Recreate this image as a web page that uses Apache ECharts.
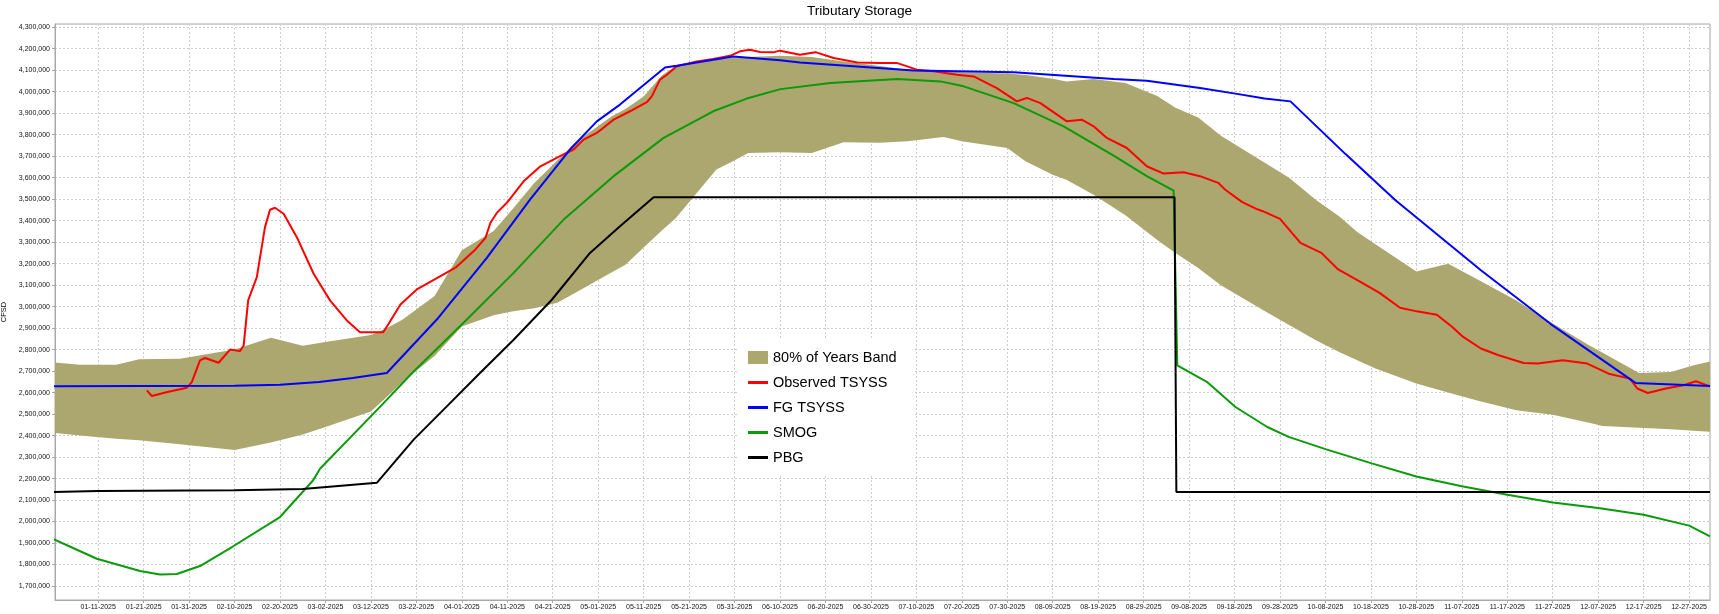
<!DOCTYPE html>
<html>
<head>
<meta charset="utf-8">
<title>Tributary Storage</title>
<script src="https://cdn.jsdelivr.net/npm/echarts@6/dist/echarts.min.js"></script>
<style>
  html, body { margin: 0; padding: 0; background: #fff; }
  #chart { width: 1719px; height: 614px; }
</style>
</head>
<body>
<div id="chart"></div>
<script>
// x = day of year (0 = 01-01-2025), values in thousands of CFSD
const UNIT = 1000;

// 80% of years band (lower / upper edge)
const bandDays = [0, 6, 14, 19, 28, 40, 48, 55, 60, 70, 73, 77, 84, 90, 97, 101, 106, 111, 115, 123,
  126, 130, 134, 137, 146, 149, 153, 160, 167, 174, 182, 188, 196, 200, 210, 214, 220, 223, 229, 236,
  243, 247, 252, 257, 267, 272, 278, 283, 287, 291, 300, 307, 314, 322, 330, 338, 341, 349, 356, 361, 365];
const bandHigh = [2740, 2730, 2730, 2755, 2758, 2800, 2855, 2818, 2835, 2868, 2895, 2940, 3050, 3262, 3352, 3450, 3576, 3680, 3765, 3886,
  3920, 3978, 4075, 4118, 4150, 4157, 4162, 4167, 4161, 4141, 4120, 4102, 4094, 4090, 4085, 4078, 4060, 4048, 4059, 4040,
  3980, 3925, 3880, 3795, 3665, 3600, 3495, 3420, 3347, 3290, 3163, 3200, 3120, 3029, 2921, 2820, 2785, 2691, 2696, 2727, 2745];
const bandLow = [2412, 2400, 2385, 2378, 2360, 2333, 2368, 2405, 2440, 2512, 2570, 2650, 2770, 2908, 2960, 2977, 2992, 3018, 3065, 3160,
  3195, 3275, 3354, 3410, 3638, 3670, 3715, 3718, 3715, 3765, 3762, 3769, 3789, 3769, 3738, 3676, 3614, 3590, 3521, 3425,
  3310, 3250, 3180, 3100, 2975, 2915, 2842, 2789, 2750, 2712, 2642, 2600, 2560, 2518, 2497, 2460, 2445, 2437, 2430, 2422, 2418];

// Observed TSYSS
const obsDays = [20.7, 21.8, 25, 29.5, 30.6, 32.4, 33.5, 36.5, 39, 41.2,
  42, 43, 44.9, 46.7, 47.8, 48.9, 50.8, 53.7, 57.4, 61,
  64.7, 67.6, 72.7, 73.9, 76.5, 80.1, 85.3, 88.6, 93, 95.2,
  96.3, 97.7, 99.9, 103.6, 107.3, 111.6, 114.6, 116.8, 119.7, 123.4,
  127, 130.7, 131.8, 133.6, 135.1, 137.3, 141.7, 145.3, 149, 151.2,
  153.4, 155.6, 158.5, 160, 164.4, 167.8, 171.8, 177, 182, 185.8,
  188, 190.1, 193.8, 198.9, 202.6, 207.7, 212.1, 214.3, 217.3, 223.1,
  226.4, 229, 231.9, 236.3, 240.7, 244.4, 248.8, 252.4, 256.4, 257.9,
  261.7, 264.8, 266.2, 270, 274.5, 279.1, 282.8, 287.4, 291.9, 296.4,
  300.1, 304.5, 307.9, 310.3, 314.2, 318.1, 323.6, 326.7, 332.2, 337.6,
  342.3, 347, 348.6, 350.9, 354.9, 358.8, 361.5, 364.6];
const obsValues = [2610, 2584, 2602, 2623, 2649, 2750, 2761, 2739, 2800, 2793,
  2819, 3029, 3137, 3370, 3451, 3460, 3432, 3323, 3153, 3029,
  2936, 2881, 2881, 2920, 3010, 3080, 3142, 3181, 3266, 3320,
  3390, 3436, 3483, 3583, 3653, 3700, 3731, 3777, 3808, 3870,
  3909, 3951, 3978, 4056, 4079, 4118, 4141, 4152, 4167, 4188,
  4195, 4185, 4183, 4191, 4172, 4184, 4157, 4136, 4133, 4133,
  4118, 4102, 4095, 4079, 4071, 4017, 3955, 3971, 3947, 3862,
  3870, 3839, 3785, 3738, 3653, 3619, 3625, 3607, 3576, 3545,
  3486, 3455, 3444, 3408, 3297, 3250, 3173, 3119, 3064, 2995,
  2978, 2962, 2905, 2859, 2805, 2774, 2738, 2735, 2750, 2735,
  2688, 2665, 2619, 2598, 2619, 2634, 2653, 2629];

// FG TSYSS
const fgDays = [0, 40, 50, 58.6, 66, 73.5, 84.5, 95.5, 105, 113.8, 119.7, 124.8, 134.7, 137.3, 149.7, 160,
  164.4, 189.4, 211.4, 233.4, 240.7, 252.4, 260.2, 266.6, 272.3, 284.3, 295.4, 314.2, 329.5, 348.2, 364.6];
const fgValues = [2630, 2632, 2636, 2649, 2668, 2691, 2940, 3227, 3498, 3731, 3862, 3940, 4113, 4121, 4164, 4146,
  4136, 4099, 4090, 4059, 4051, 4017, 3991, 3968, 3955, 3712, 3495, 3169, 2920, 2645, 2631];

// SMOG
const smogDays = [0, 9.7, 19.2, 23.6, 27.3, 32.4, 39.7, 50, 57.3, 58.8, 72.1, 79.4, 91.1, 101.4, 112.4,
  123.4, 134.4, 145.3, 152.7, 160.1, 171.1, 185.8, 195.3, 200.4, 211.4, 222.4, 233.4, 240.7, 246.6, 247.4,
  253.9, 260.2, 267.2, 271.9, 280, 290, 300, 310, 320, 330, 340, 350, 360, 364.6];
const smogValues = [1920, 1827, 1770, 1754, 1756, 1793, 1885, 2021, 2192, 2246, 2536, 2698, 2940, 3157, 3405,
  3607, 3785, 3909, 3968, 4012, 4040, 4059, 4048, 4025, 3947, 3839, 3703, 3607, 3540, 2727,
  2650, 2533, 2440, 2394, 2337, 2272, 2210, 2164, 2125, 2089, 2063, 2032, 1981, 1931];

// PBG
const pbgDays = [0, 10, 40, 55, 71.3, 79.4, 86.7, 94, 101.4, 109.8, 118.2, 124.8, 132.2, 246.8, 247.2, 364.6];
const pbgValues = [2137, 2142, 2146, 2152, 2180, 2381, 2536, 2691, 2846, 3032, 3250, 3374, 3509, 3509, 2138, 2138];

const FONT = '"Liberation Sans", Arial, sans-serif';
const BAND = '#aca76e';
const GRID_LINE = { lineStyle: { color: '#cdcdcd', width: 1, type: [2, 2] } };
const LINE_ICON = 'path://M0,0H20V3H0Z';

function pairs(days, vals) {
  return days.map((d, i) => [d, vals[i] * UNIT]);
}

// day index -> MM-DD-YYYY
function dayLabel(d) {
  const t = new Date(Date.UTC(2025, 0, 1) + Math.round(d) * 86400000);
  const mm = String(t.getUTCMonth() + 1).padStart(2, '0');
  const dd = String(t.getUTCDate()).padStart(2, '0');
  return mm + '-' + dd + '-' + t.getUTCFullYear();
}

function thousands(v) {
  return String(Math.round(v)).replace(/\B(?=(\d{3})+(?!\d))/g, ',');
}

function lineSeries(name, data, color) {
  return {
    name: name,
    type: 'line',
    data: data,
    symbol: 'none',
    color: color,
    lineStyle: { color: color, width: 2 },
    itemStyle: { color: color }
  };
}

// band drawn as one polygon: upper edge left->right, lower edge right->left
function renderBand(params, api) {
  if (params.dataIndex !== 0) return null;
  const upper = bandDays.map((d, i) => api.coord([d, bandHigh[i] * UNIT]));
  const lower = bandDays.map((d, i) => api.coord([d, bandLow[i] * UNIT])).reverse();
  const cs = params.coordSys;
  const pts = echarts.graphic.clipPointsByRect(upper.concat(lower), {
    x: cs.x, y: cs.y, width: cs.width, height: cs.height
  });
  return {
    type: 'polygon',
    shape: { points: pts },
    style: { fill: BAND }
  };
}

const chart = echarts.init(document.getElementById('chart'));

chart.setOption({
  animation: false,
  backgroundColor: '#fff',
  title: {
    text: 'Tributary Storage',
    left: 'center',
    top: 0,
    padding: [4, 5, 0, 5],
    textStyle: { fontFamily: FONT, fontSize: 13.7, fontWeight: 'normal', color: '#000' }
  },
  grid: {
    left: 55, right: 9, top: 24, bottom: 14,
    show: true, borderColor: '#a8a8a8', borderWidth: 1,
    containLabel: false, outerBoundsMode: 'none'
  },
  legend: {
    orient: 'vertical',
    left: 738, top: 338,
    padding: [12, 16, 11, 10],
    backgroundColor: '#fff',
    itemWidth: 20, itemHeight: 13, itemGap: 10,
    textStyle: { fontFamily: FONT, fontSize: 14.5, color: '#000' },
    data: [
      { name: '80% of Years Band', icon: 'rect' },
      { name: 'Observed TSYSS', icon: LINE_ICON },
      { name: 'FG TSYSS', icon: LINE_ICON },
      { name: 'SMOG', icon: LINE_ICON },
      { name: 'PBG', icon: LINE_ICON }
    ]
  },
  xAxis: {
    type: 'value',
    min: 0.5, max: 364.6,
    splitNumber: 36,
    axisLine: { lineStyle: { color: '#a8a8a8' } },
    axisTick: { show: true, length: 3, lineStyle: { color: '#a8a8a8' } },
    axisLabel: {
      showMinLabel: false, showMaxLabel: false,
      formatter: dayLabel,
      fontFamily: FONT, fontSize: 7, margin: 4, color: '#111'
    },
    splitLine: GRID_LINE
  },
  yAxis: {
    type: 'value',
    min: 1635000, max: 4315000,
    splitNumber: 26,
    name: 'CFSD',
    nameLocation: 'middle',
    nameGap: 42,
    nameTextStyle: { fontFamily: FONT, fontSize: 7.5, color: '#000' },
    axisLine: { show: true, lineStyle: { color: '#a8a8a8' } },
    axisTick: { show: true, length: 3, lineStyle: { color: '#a8a8a8' } },
    axisLabel: {
      showMinLabel: false, showMaxLabel: false,
      formatter: thousands,
      fontFamily: FONT, fontSize: 7, margin: 5, color: '#111'
    },
    splitLine: GRID_LINE
  },
  series: [
    {
      name: '80% of Years Band',
      type: 'custom',
      renderItem: renderBand,
      data: bandDays.map((d, i) => [d, bandLow[i] * UNIT, bandHigh[i] * UNIT]),
      encode: { x: 0, y: [1, 2] },
      silent: true,
      color: BAND,
      itemStyle: { color: BAND }
    },
    lineSeries('Observed TSYSS', pairs(obsDays, obsValues), '#ff0000'),
    lineSeries('FG TSYSS', pairs(fgDays, fgValues), '#0000ff'),
    lineSeries('SMOG', pairs(smogDays, smogValues), '#0a9a0a'),
    lineSeries('PBG', pairs(pbgDays, pbgValues), '#000000')
  ]
});
</script>
</body>
</html>
